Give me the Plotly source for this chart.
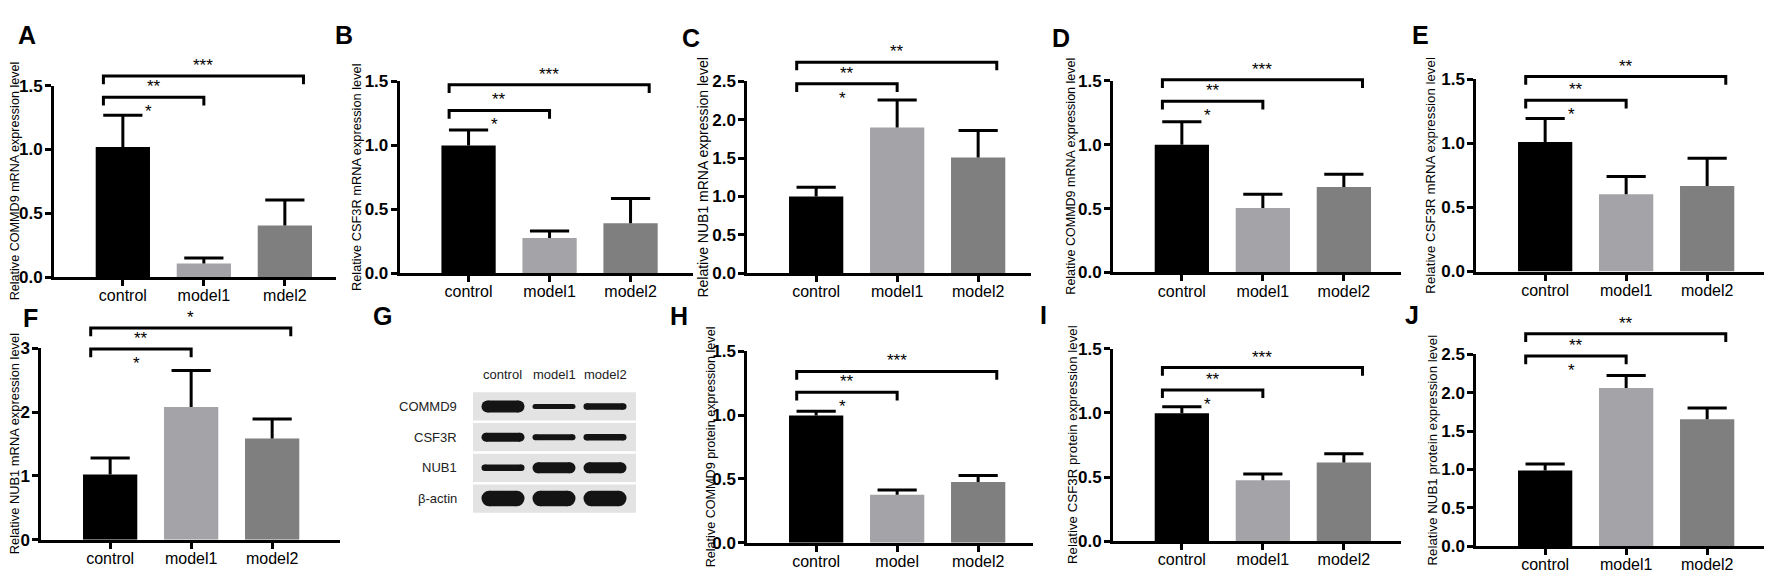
import plotly.graph_objects as go

W, H = 1772, 570
FONT = "Liberation Sans, Arial, Helvetica, sans-serif"

# group names as printed under each panel
groups = ["control", "model1", "model2"]
groups_A = ["control", "model1", "mdel2"]
groups_H = ["control", "model", "model2"]
bar_colors = ["#000000", "#a4a3a8", "#7f7f7f"]

# A  COMMD9 mRNA
mean_A = [1.02, 0.106, 0.404]
sd_A = [0.247, 0.043, 0.200]
# B  CSF3R mRNA
mean_B = [1.00, 0.275, 0.39]
sd_B = [0.12, 0.055, 0.195]
# C  NUB1 mRNA
mean_C = [1.00, 1.90, 1.51]
sd_C = [0.12, 0.36, 0.35]
# D  COMMD9 mRNA
mean_D = [1.00, 0.504, 0.668]
sd_D = [0.18, 0.109, 0.101]
# E  CSF3R mRNA
mean_E = [1.01, 0.603, 0.666]
sd_E = [0.183, 0.138, 0.218]
# F  NUB1 mRNA
mean_F = [1.02, 2.08, 1.586]
sd_F = [0.26, 0.57, 0.304]
# H  COMMD9 protein
mean_H = [0.996, 0.376, 0.477]
sd_H = [0.033, 0.038, 0.05]
# I  CSF3R protein
mean_I = [0.997, 0.475, 0.613]
sd_I = [0.051, 0.05, 0.07]
# J  NUB1 protein
mean_J = [0.987, 2.06, 1.655]
sd_J = [0.083, 0.166, 0.145]

ticks_15 = [0, 0.5, 1.0, 1.5]
ticks_25 = [0, 0.5, 1.0, 1.5, 2.0, 2.5]
ticks_3 = [0, 1, 2, 3]

# significance marks: [control vs model2, control vs model1, mark under short bracket]
stars_A = ["***", "**", "*"]
stars_B = ["***", "**", "*"]
stars_C = ["**", "**", "*"]
stars_D = ["***", "**", "*"]
stars_E = ["**", "**", "*"]
stars_F = ["*", "**", "*"]
stars_H = ["***", "**", "*"]
stars_I = ["***", "**", "*"]
stars_J = ["**", "**", "*"]

# bracket heights in data units: [control-model2, control-model1]
bracket_A = [1.576, 1.409]
bracket_B = [1.475, 1.273]
bracket_C = [2.752, 2.471]
bracket_D = [1.508, 1.339]
bracket_E = [1.520, 1.336]
bracket_F = [3.318, 2.990]
bracket_H = [1.341, 1.178]
bracket_I = [1.354, 1.180]
bracket_J = [2.768, 2.479]

# western blot (G)
blot_rows = ["COMMD9", "CSF3R", "NUB1", "β-actin"]
blot_lanes = ["control", "model1", "model2"]
# band thickness (px), rows x lanes
band_px = [
    [12, 5, 6.5],
    [9, 6, 6.5],
    [6.5, 11, 11],
    [15.5, 15.5, 15.5],
]

# panel geometry in pixels (left/right of x axis, y of zero and top tick, top of bracket area)
panels = [
    ("A", groups_A, mean_A, sd_A, ticks_15, ".1f", stars_A, bracket_A,
     "Relative COMMD9 mRNA expression level",
     dict(left=46, right=328, y0=269, ytop=71, top=0, tdx=39, ts=12.6, lx=8, ly=7)),
    ("B", groups, mean_B, sd_B, ticks_15, ".1f", stars_B, bracket_B,
     "Relative CSF3R mRNA expression level",
     dict(left=391.7, right=685, y0=265, ytop=66.7, top=0, tdx=43, ts=12.8, lx=325, ly=7)),
    ("C", groups, mean_C, sd_C, ticks_25, ".1f", stars_C, bracket_C,
     "Relative NUB1 mRNA expression level",
     dict(left=739.3, right=1023, y0=265, ytop=66.7, top=0, tdx=44, ts=14, lx=672, ly=10)),
    ("D", groups, mean_D, sd_D, ticks_15, ".1f", stars_D, bracket_D,
     "Relative COMMD9 mRNA expression level",
     dict(left=1105, right=1393, y0=264.3, ytop=66, top=0, tdx=42, ts=12.5, lx=1042, ly=10)),
    ("E", groups, mean_E, sd_E, ticks_15, ".1f", stars_E, bracket_E,
     "Relative CSF3R mRNA expression level",
     dict(left=1468.3, right=1763, y0=263.3, ytop=64.3, top=0, tdx=46, ts=13.3, lx=1402, ly=7)),
    ("F", groups, mean_F, sd_F, ticks_3, "d", stars_F, bracket_F,
     "Relative NUB1 mRNA expression level",
     dict(left=33.3, right=331.7, y0=540.7, ytop=342.7, top=290, tdx=26, ts=12.9, lx=13, ly=300)),
    ("H", groups_H, mean_H, sd_H, ticks_15, ".1f", stars_H, bracket_H,
     "Relative COMMD9 protein expression level",
     dict(left=739.3, right=1025, y0=544, ytop=345.7, top=290, tdx=36, ts=12.6, lx=660, ly=298)),
    ("I", groups, mean_I, sd_I, ticks_15, ".1f", stars_I, bracket_I,
     "Relative CSF3R protein expression level",
     dict(left=1105, right=1393, y0=542.3, ytop=343.3, top=290, tdx=41, ts=13.3, lx=1030, ly=297)),
    ("J", groups, mean_J, sd_J, ticks_25, ".1f", stars_J, bracket_J,
     "Relative NUB1 protein expression level",
     dict(left=1468.3, right=1763, y0=547.3, ytop=349, top=290, tdx=44, ts=13.3, lx=1395, ly=297)),
]

PITCH = 81.0      # px per category
XLEFT = -0.85
BAR_W = 0.67
BR_L, BR_R = -0.24, 0.23
DROP_PX = 8.5


def ref(c, n):
    return c if n == 1 else f"{c}{n}"


def key(c, n):
    return f"{c}axis" if n == 1 else f"{c}axis{n}"


fig = go.Figure()
layout = dict(
    width=W, height=H, margin=dict(l=0, r=0, t=0, b=0),
    paper_bgcolor="white", plot_bgcolor="rgba(0,0,0,0)",
    showlegend=False, font=dict(family=FONT, color="black"),
)
annotations = []

for n, (letter, grp, mean, sd, ticks, fmt, stars, br, ytitle, g) in enumerate(panels, start=1):
    xr, yr, br_ref = ref("x", n), ref("y", n), f"y{n + 10}"
    ymax = ticks[-1]
    xs_cat = list(range(len(mean)))
    fig.add_trace(go.Bar(
        x=xs_cat, y=mean, width=BAR_W, xaxis=xr, yaxis=yr,
        marker=dict(color=bar_colors, line=dict(width=0)), hoverinfo="skip",
    ))
    # upper-only error bars: stem from bar top plus a cap
    ex, ey = [], []
    for i, (m, s) in enumerate(zip(mean, sd)):
        ex += [i, i, None]
        ey += [m, m + s, None]
    fig.add_trace(go.Scatter(
        x=ex, y=ey, xaxis=xr, yaxis=yr, mode="lines",
        line=dict(color="black", width=3), hoverinfo="skip",
    ))
    fig.add_trace(go.Scatter(
        x=xs_cat, y=[m + s for m, s in zip(mean, sd)], xaxis=xr, yaxis=yr, mode="markers",
        marker=dict(symbol="line-ew", size=28, line=dict(color="black", width=3)),
        hoverinfo="skip", cliponaxis=False,
    ))
    layout[key("x", n)] = dict(
        domain=[g["left"] / W, g["right"] / W],
        range=[XLEFT, XLEFT + (g["right"] - g["left"]) / PITCH],
        anchor=yr, tickvals=xs_cat, ticktext=grp,
        showline=True, linewidth=3, linecolor="black",
        ticks="outside", ticklen=6, tickwidth=3, tickcolor="black",
        tickfont=dict(size=16, family=FONT, color="black"), ticklabelstandoff=-4,
        showgrid=False, zeroline=False, fixedrange=True,
    )
    layout[key("y", n)] = dict(
        domain=[1 - g["y0"] / H, 1 - g["ytop"] / H],
        range=[0, ymax], anchor=xr, tickvals=ticks, tickformat=fmt,
        showline=True, linewidth=3, linecolor="black",
        ticks="outside", ticklen=6, tickwidth=3, tickcolor="black",
        tickfont=dict(size=17, family=FONT, color="black", weight="bold"),
        ticklabelstandoff=-1,
        showgrid=False, zeroline=False, fixedrange=True,
    )
    # taller invisible axis on the same scale so brackets can sit above the top tick
    ext = ymax * (g["y0"] - g["top"]) / (g["y0"] - g["ytop"])
    layout[key("y", n + 10)] = dict(
        domain=[1 - g["y0"] / H, 1 - g["top"] / H], range=[0, ext],
        anchor=xr, visible=False, fixedrange=True,
    )
    drop = DROP_PX * ymax / (g["y0"] - g["ytop"])
    long_b, short_b = br
    for xs, yb in (([BR_L, BR_L, 2 + BR_R, 2 + BR_R], long_b), ([BR_L, BR_L, 1, 1], short_b)):
        fig.add_trace(go.Scatter(
            x=xs, y=[yb - drop, yb, yb, yb - drop], xaxis=xr, yaxis=br_ref,
            mode="lines", line=dict(color="black", width=3), hoverinfo="skip",
        ))
    annotations += [
        dict(x=(BR_L + 2 + BR_R) / 2, y=long_b, xref=xr, yref=br_ref, text=stars[0],
             showarrow=False, yanchor="bottom", yshift=-1, font=dict(size=17)),
        dict(x=(BR_L + 1) / 2, y=short_b, xref=xr, yref=br_ref, text=stars[1],
             showarrow=False, yanchor="bottom", yshift=-1, font=dict(size=17)),
        dict(x=0.32, y=short_b, xref=xr, yref=br_ref, text=stars[2],
             showarrow=False, yanchor="top", yshift=-3, font=dict(size=17)),
        dict(x=0, y=0.5, xref=f"{xr} domain", yref=f"{yr} domain", text=ytitle,
             textangle=-90, showarrow=False, xanchor="center", yanchor="middle",
             xshift=-g["tdx"], font=dict(size=g["ts"])),
        dict(x=g["lx"] / W, y=1 - (g["ly"] - 5) / H, xref="paper", yref="paper",
             text=f"<b>{letter}</b>", showarrow=False, xanchor="left", yanchor="top",
             font=dict(size=25)),
    ]

# ---- G: western blot ----
bx0, bx1, by0, by1 = 465, 628, 387, 514
lane_px = 51.0
xb_left = -(495 - bx0) / lane_px
layout["xaxis10"] = dict(domain=[bx0 / W, bx1 / W],
                         range=[xb_left, xb_left + (bx1 - bx0) / lane_px],
                         anchor="y10", visible=False, fixedrange=True)
layout["yaxis10"] = dict(domain=[1 - by1 / H, 1 - by0 / H], range=[3.5, -0.5],
                         anchor="x10", visible=False, fixedrange=True)
fig.add_trace(go.Bar(
    y=list(range(len(blot_rows))), x=[(bx1 - bx0) / lane_px] * len(blot_rows),
    base=xb_left, orientation="h", width=0.92, xaxis="x10", yaxis="y10",
    marker=dict(color="#e3e3e3", line=dict(width=0)), hoverinfo="skip",
))
for r, row in enumerate(band_px):
    for lane, t in enumerate(row):
        half = (43 - t) / 2 / lane_px
        fig.add_trace(go.Scatter(
            x=[lane - half, lane + half], y=[r, r], xaxis="x10", yaxis="y10",
            mode="lines+markers", line=dict(color="#141414", width=t),
            marker=dict(color="#141414", size=t, line=dict(width=0)), hoverinfo="skip",
        ))
for lane, name in enumerate(blot_lanes):
    annotations.append(dict(x=lane, y=1 - 370 / H, xref="x10", yref="paper", text=name,
                            showarrow=False, font=dict(size=13, color="#222")))
for r, name in enumerate(blot_rows):
    annotations.append(dict(x=0, y=r, xref="x10 domain", yref="y10", text=name,
                            showarrow=False, xanchor="right", xshift=-14,
                            font=dict(size=13, color="#222")))
annotations.append(dict(x=363 / W, y=1 - 293 / H, xref="paper", yref="paper",
                        text="<b>G</b>", showarrow=False, xanchor="left", yanchor="top",
                        font=dict(size=25)))

layout["annotations"] = annotations
fig.update_layout(**layout)
fig.write_html("out.html")
